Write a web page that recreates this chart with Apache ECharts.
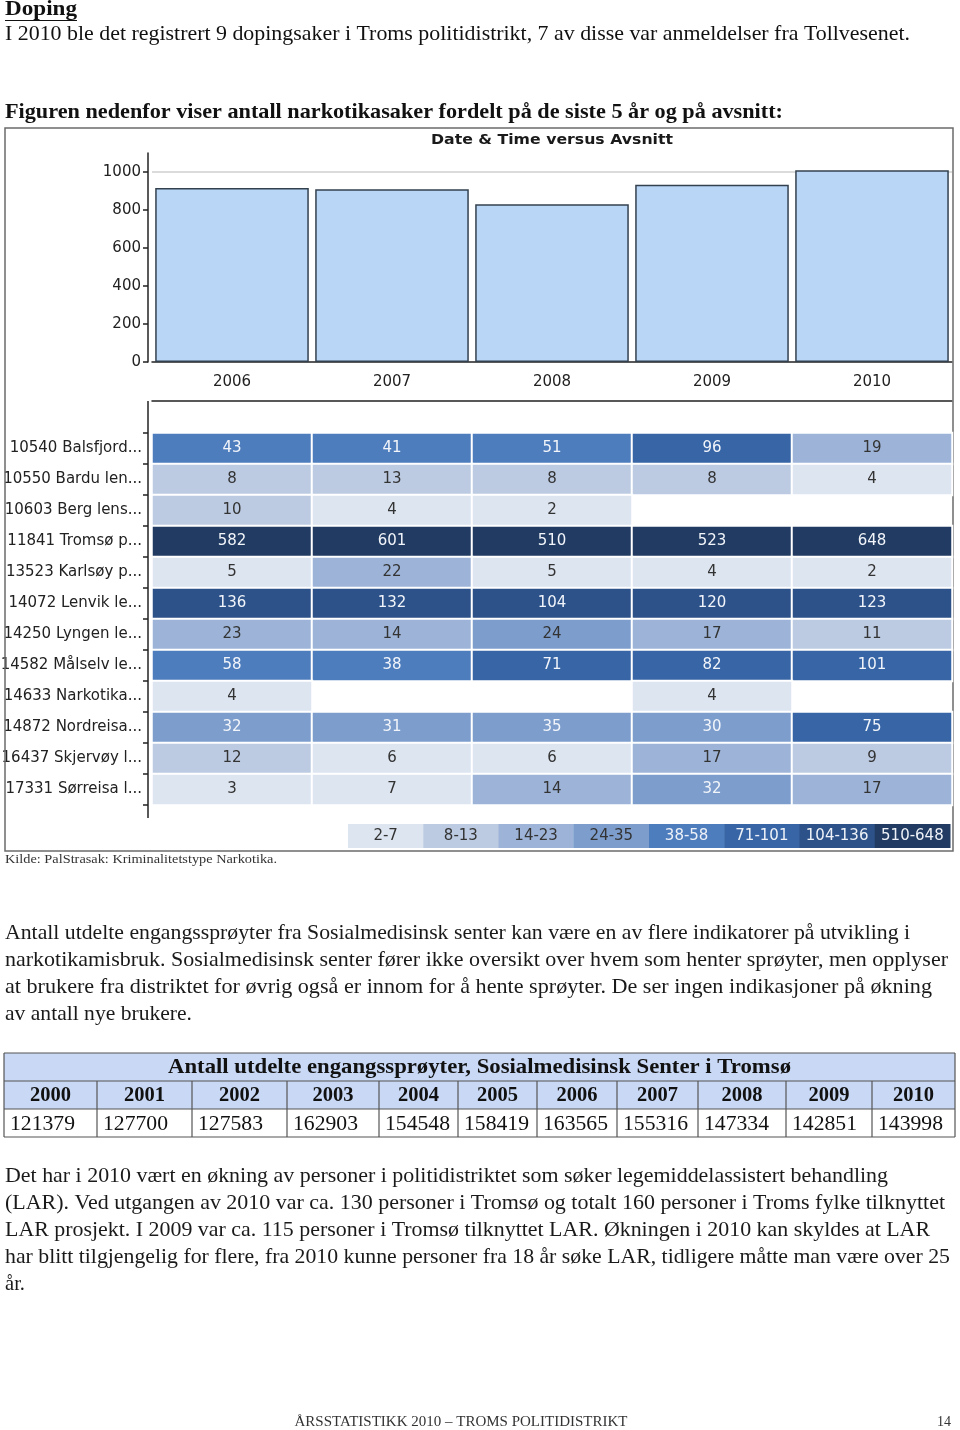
<!DOCTYPE html>
<html><head><meta charset="utf-8">
<script src="https://cdn.jsdelivr.net/npm/echarts@6/dist/echarts.min.js"></script>
<style>html,body{margin:0;padding:0;background:#fff}#c{width:960px;height:1430px}</style>
</head><body><div id="c"></div>
<script>
// ---------- DATA ----------
const years = ['2006', '2007', '2008', '2009', '2010'];
const totals = [916, 909, 830, 933, 1009];
const yTicks = [0, 200, 400, 600, 800, 1000];
const districts = ['10540 Balsfjord...', '10550 Bardu len...', '10603 Berg lens...', '11841 Tromsø p...',
  '13523 Karlsøy p...', '14072 Lenvik le...', '14250 Lyngen le...', '14582 Målselv le...',
  '14633 Narkotika...', '14872 Nordreisa...', '16437 Skjervøy l...', '17331 Sørreisa l...'];
const cases = [
  [43, 41, 51, 96, 19],
  [8, 13, 8, 8, 4],
  [10, 4, 2, null, null],
  [582, 601, 510, 523, 648],
  [5, 22, 5, 4, 2],
  [136, 132, 104, 120, 123],
  [23, 14, 24, 17, 11],
  [58, 38, 71, 82, 101],
  [4, null, null, 4, null],
  [32, 31, 35, 30, 75],
  [12, 6, 6, 17, 9],
  [3, 7, 14, 32, 17]
];
const pieceLabels = ['2-7', '8-13', '14-23', '24-35', '38-58', '71-101', '104-136', '510-648'];
const pieceMin = [2, 8, 14, 24, 38, 71, 104, 510];
const pieceMax = [7, 13, 23, 35, 58, 101, 136, 648];
const syringeYears = ['2000', '2001', '2002', '2003', '2004', '2005', '2006', '2007', '2008', '2009', '2010'];
const syringes = [121379, 127700, 127583, 162903, 154548, 158419, 163565, 155316, 147334, 142851, 143998];

const heading = 'Doping';
const dopingLine = 'I 2010 ble det registrert 9 dopingsaker i Troms politidistrikt, 7 av disse var anmeldelser fra Tollvesenet.';
const figCaption = 'Figuren nedenfor viser antall narkotikasaker fordelt på de siste 5 år og på avsnitt:';
const chartTitle = 'Date & Time versus Avsnitt';
const sourceNote = 'Kilde: PalStrasak: Kriminalitetstype Narkotika.';
const para1 = [
  'Antall utdelte engangssprøyter fra Sosialmedisinsk senter kan være en av flere indikatorer på utvikling i',
  'narkotikamisbruk. Sosialmedisinsk senter fører ikke oversikt over hvem som henter sprøyter, men opplyser',
  'at brukere fra distriktet for øvrig også er innom for å hente sprøyter. De ser ingen indikasjoner på økning',
  'av antall nye brukere.'
];
const tableTitle = 'Antall utdelte engangssprøyter, Sosialmedisinsk Senter i Tromsø';
const para2 = [
  'Det har i 2010 vært en økning av personer i politidistriktet som søker legemiddelassistert behandling',
  '(LAR). Ved utgangen av 2010 var ca. 130 personer i Tromsø og totalt 160 personer i Troms fylke tilknyttet',
  'LAR prosjekt. I 2009 var ca. 115 personer i Tromsø tilknyttet LAR. Økningen i 2010 kan skyldes at LAR',
  'har blitt tilgjengelig for flere, fra 2010 kunne personer fra 18 år søke LAR, tidligere måtte man være over 25',
  'år.'
];
const footerText = 'ÅRSSTATISTIKK 2010 – TROMS POLITIDISTRIKT';
const pageNo = '14';

// ---------- STYLE / LAYOUT ----------
const pieceColors = ['#dde5f0', '#bccbe2', '#9db4d8', '#7d9ecd', '#4e7dbd', '#3765a6', '#2c5289', '#213b62'];
const SERIF = '"Liberation Serif", "DejaVu Serif", serif';
const SANS = '"DejaVu Sans", Verdana, sans-serif';
const bodyFont = '21px ' + SERIF;
const para1Widths = [905, 943, 927, 187];
const para2Widths = [883, 940, 925, 945, 20];
const para1Y = [933, 960, 987, 1014];
const para2Y = [1176, 1203, 1230, 1257, 1284];
const colEdges = [4, 97, 192, 287, 379, 458, 537, 617, 698, 786, 872, 955];
const rowEdges = [1053, 1081, 1109, 1137];

const mctx = document.createElement('canvas').getContext('2d');
function fitScale(str, font, w) { mctx.font = font; const m = mctx.measureText(str).width; return m > 0 ? w / m : 1; }
function textEl(str, x, y, font, opts) {
  opts = opts || {};
  const align = opts.align || 'left';
  const el = {
    type: 'text', x: x, y: y, z: 10,
    style: { text: str, font: font, fill: opts.fill || '#111', align: align, verticalAlign: 'middle',
             textAlign: align, textVerticalAlign: 'middle' }
  };
  if (opts.width) el.scaleX = fitScale(str, font, opts.width);
  return el;
}

const graphics = [];
// page text
graphics.push(textEl(heading, 5, 10, 'bold 21px ' + SERIF, { width: 72 }));
graphics.push({ type: 'line', shape: { x1: 5, y1: 20.5, x2: 77, y2: 20.5 }, style: { stroke: '#111', lineWidth: 1.2 } });
graphics.push(textEl(dopingLine, 5, 34, bodyFont, { width: 905 }));
graphics.push(textEl(figCaption, 5, 113, 'bold 21px ' + SERIF, { width: 778 }));
// chart frame
graphics.push({ type: 'rect', shape: { x: 5, y: 128, width: 948, height: 723 }, style: { fill: 'none', stroke: '#6b6b6b', lineWidth: 1.5 }, z: 1 });
graphics.push(textEl(chartTitle, 552, 140, 'bold 14px ' + SANS, { align: 'center', width: 242, fill: '#1a1a1a' }));
// heatmap y axis line (extended)
graphics.push({ type: 'line', shape: { x1: 148, y1: 401, x2: 148, y2: 818 }, style: { stroke: '#222', lineWidth: 1.5 }, z: 5 });
// legend
const legX = 348, legW = (950 - 348) / pieceLabels.length;
pieceLabels.forEach((lab, i) => {
  graphics.push({ type: 'rect', shape: { x: legX + i * legW, y: 824, width: legW + 0.5, height: 24 }, style: { fill: pieceColors[i] }, z: 4 });
  graphics.push(textEl(lab, legX + i * legW + legW / 2, 836, '15px ' + SANS, { align: 'center', fill: i < 4 ? '#333' : '#eef2f8' }));
});
graphics.push(textEl(sourceNote, 5, 860, '13px ' + SERIF, { width: 272, fill: '#333' }));
// paragraph 1
para1.forEach((l, i) => graphics.push(textEl(l, 5, para1Y[i], bodyFont, { width: para1Widths[i], fill: '#1a1a1a' })));
// table
const tL = colEdges[0], tR = colEdges[colEdges.length - 1];
graphics.push({ type: 'rect', shape: { x: tL, y: rowEdges[0], width: tR - tL, height: rowEdges[2] - rowEdges[0] }, style: { fill: '#c9d9f5' }, z: 2 });
graphics.push(textEl(tableTitle, (tL + tR) / 2, (rowEdges[0] + rowEdges[1]) / 2 + 1, 'bold 21px ' + SERIF, { align: 'center', width: 623 }));
syringeYears.forEach((yr, i) => {
  const cx = (colEdges[i] + colEdges[i + 1]) / 2;
  graphics.push(textEl(yr, cx, (rowEdges[1] + rowEdges[2]) / 2 + 1, 'bold 21px ' + SERIF, { align: 'center', width: 41 }));
  graphics.push(textEl(String(syringes[i]), colEdges[i] + 6, (rowEdges[2] + rowEdges[3]) / 2 + 1, bodyFont, { width: 65 }));
});
// table lines
rowEdges.forEach(y => graphics.push({ type: 'line', shape: { x1: tL, y1: y, x2: tR, y2: y }, style: { stroke: '#555', lineWidth: 1.2 }, z: 3 }));
graphics.push({ type: 'line', shape: { x1: tL, y1: rowEdges[0], x2: tL, y2: rowEdges[3] }, style: { stroke: '#555', lineWidth: 1.2 }, z: 3 });
graphics.push({ type: 'line', shape: { x1: tR, y1: rowEdges[0], x2: tR, y2: rowEdges[3] }, style: { stroke: '#555', lineWidth: 1.2 }, z: 3 });
colEdges.slice(1, -1).forEach(x => graphics.push({ type: 'line', shape: { x1: x, y1: rowEdges[1], x2: x, y2: rowEdges[3] }, style: { stroke: '#555', lineWidth: 1.2 }, z: 3 }));
// paragraph 2
para2.forEach((l, i) => graphics.push(textEl(l, 5, para2Y[i], bodyFont, { width: para2Widths[i], fill: '#1a1a1a' })));
// footer
graphics.push(textEl(footerText, 461, 1422, '14px ' + SERIF, { align: 'center', width: 333, fill: '#333' }));
graphics.push(textEl(pageNo, 951, 1422, '14px ' + SERIF, { align: 'right', fill: '#333' }));

// heatmap data
const heatData = [];
cases.forEach((row, r) => row.forEach((v, c) => {
  if (v === null) return;
  heatData.push({ value: [c, r, v], label: { color: v > 24 ? '#f2f5fa' : '#333' } });
}));

const axisColor = '#222';
const option = {
  animation: false,
  backgroundColor: '#fff',
  grid: [
    { left: 152, width: 800, top: 153, height: 209, outerBoundsMode: 'none' },
    { left: 152, width: 800, top: 433, height: 372, outerBoundsMode: 'none' }
  ],
  xAxis: [
    { type: 'category', gridIndex: 0, data: years,
      axisLine: { lineStyle: { color: axisColor, width: 1.5 } },
      axisTick: { alignWithLabel: true, length: 8, lineStyle: { color: axisColor, width: 1.5 } },
      axisLabel: { fontFamily: SANS, fontSize: 15, color: '#222', margin: 13 } },
    { type: 'category', gridIndex: 1, data: years, position: 'top', offset: 32,
      axisLine: { lineStyle: { color: axisColor, width: 1.5 } },
      axisTick: { alignWithLabel: true, length: 6, lineStyle: { color: axisColor, width: 1.5 } },
      axisLabel: { show: false }, splitLine: { show: false } }
  ],
  yAxis: [
    { type: 'value', gridIndex: 0, min: 0, max: 1100, interval: 200, offset: 4,
      axisLine: { show: true, lineStyle: { color: axisColor, width: 1.5 } },
      axisTick: { show: true, length: 5, customValues: yTicks, lineStyle: { color: axisColor, width: 1.5 } },
      axisLabel: { fontFamily: SANS, fontSize: 15, color: '#222', margin: 7, customValues: yTicks,
                   formatter: v => String(v) },
      splitLine: { show: false } },
    { type: 'category', gridIndex: 1, data: districts, inverse: true, offset: 4,
      axisLine: { show: false },
      axisTick: { show: true, length: 5, lineStyle: { color: axisColor, width: 1.5 } },
      axisLabel: { fontFamily: SANS, fontSize: 15, color: '#222', margin: 6 },
      splitLine: { show: false } }
  ],
  visualMap: {
    type: 'piecewise', show: false, seriesIndex: 1, dimension: 2,
    pieces: pieceLabels.map((l, i) => ({ gte: pieceMin[i], lte: pieceMax[i], color: pieceColors[i] }))
  },
  series: [
    { type: 'bar', xAxisIndex: 0, yAxisIndex: 0, data: totals, barCategoryGap: '4%',
      itemStyle: { color: '#b9d6f7', borderColor: '#33414f', borderWidth: 1.5 },
      markLine: { silent: true, symbol: 'none', label: { show: false }, z: 1,
        lineStyle: { color: '#cfcfcf', type: 'solid', width: 1.5 }, data: [{ yAxis: 1000 }] } },
    { type: 'heatmap', xAxisIndex: 1, yAxisIndex: 1, data: heatData,
      itemStyle: { borderColor: '#fff', borderWidth: 2 },
      label: { show: true, fontFamily: SANS, fontSize: 15, formatter: p => p.value[2] },
      emphasis: { disabled: true } }
  ],
  graphic: { elements: graphics }
};
const chart = echarts.init(document.getElementById('c'), null, { renderer: 'canvas' });
chart.setOption(option);
</script></body></html>
